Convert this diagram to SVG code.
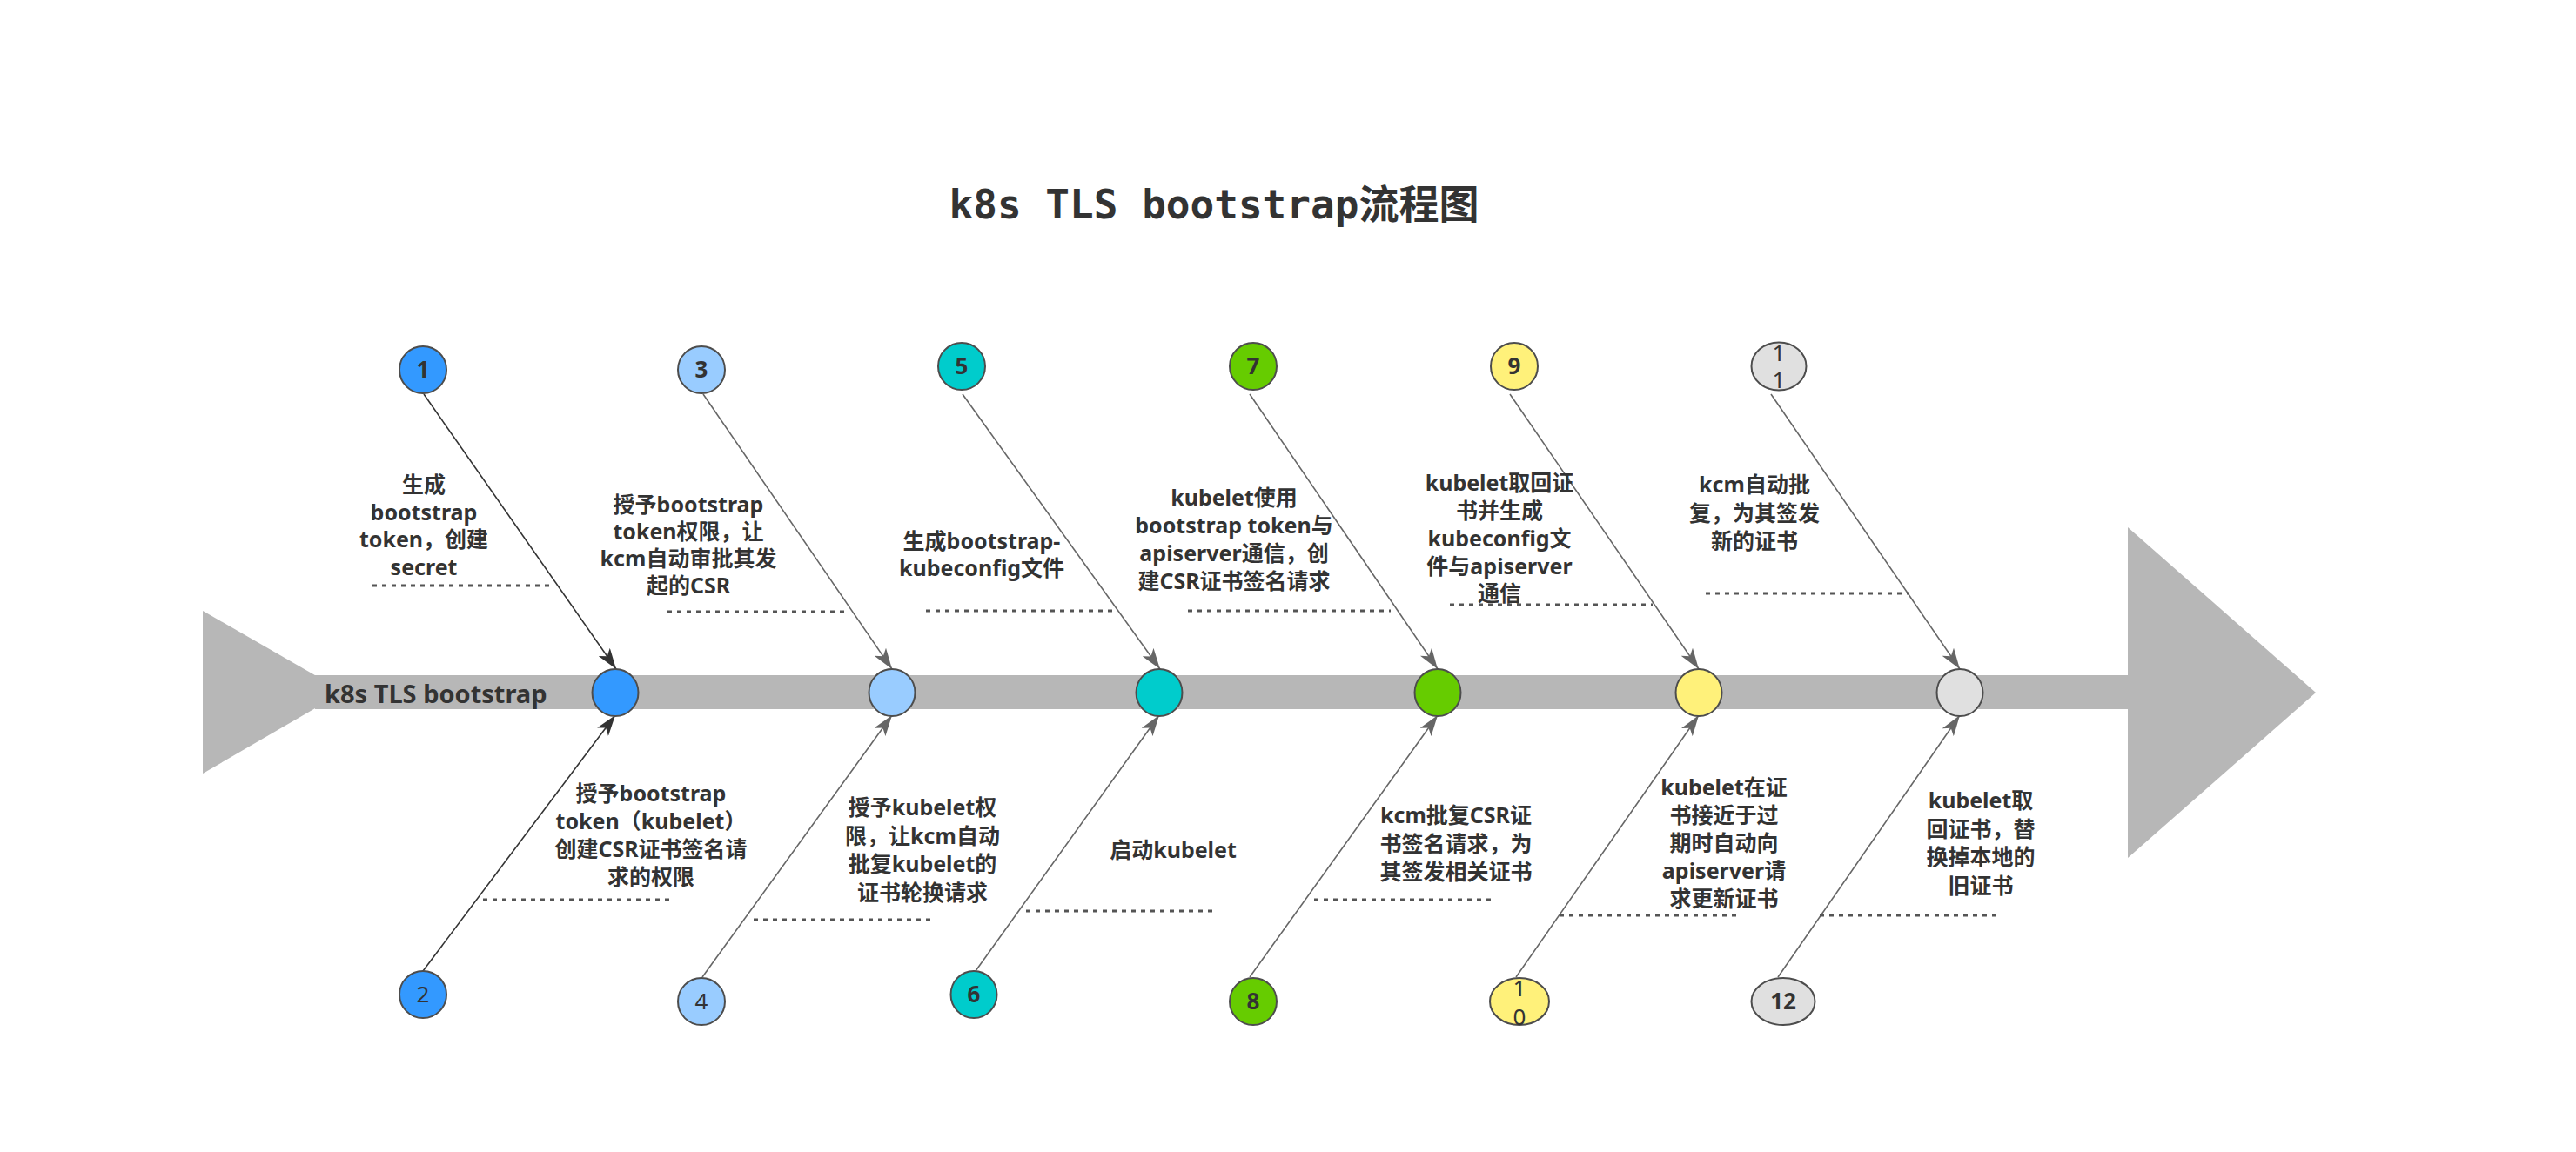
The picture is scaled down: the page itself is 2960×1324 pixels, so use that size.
<svg xmlns="http://www.w3.org/2000/svg" width="2960" height="1324" viewBox="0 0 2960 1324">
<defs>
<style>
.bg{fill:#ffffff}
.spine{fill:#b7b7b7}
.node{stroke:#4d4d4d;stroke-width:2}
.num{font-family:"Noto Sans","Noto Sans CJK SC",sans-serif;font-size:26px;fill:#333;text-anchor:middle}
.b{font-weight:bold}
.lbl{font-family:"Noto Sans","Noto Sans CJK SC",sans-serif;font-size:25px;font-weight:bold;fill:#333;text-anchor:middle}
.dot{stroke:#555;stroke-width:3;stroke-dasharray:5 6;fill:none}
.c-dark{stroke:#333;stroke-width:1.6;fill:none;marker-end:url(#ah-dark)}
.c-gray{stroke:#666;stroke-width:1.6;fill:none;marker-end:url(#ah-gray)}
.f1{fill:#3399ff}.f3{fill:#99ccff}.f5{fill:#00cccc}.f7{fill:#66cc00}.f9{fill:#fff17a}.f11{fill:#e0e0e0}
</style>
<marker id="ah-dark" viewBox="0 0 24 16" markerWidth="24" markerHeight="16" refX="24" refY="8" orient="auto" markerUnits="userSpaceOnUse"><path d="M0,0 L24,8 L0,16 L6,8 Z" fill="#333"/></marker>
<marker id="ah-gray" viewBox="0 0 24 16" markerWidth="24" markerHeight="16" refX="24" refY="8" orient="auto" markerUnits="userSpaceOnUse"><path d="M0,0 L24,8 L0,16 L6,8 Z" fill="#666"/></marker>
</defs>
<rect class="bg" x="0" y="0" width="2960" height="1324"/>

<g id="title">
<text x="1395" y="251" font-family="'DejaVu Sans Mono','Noto Sans CJK SC',monospace" font-size="46" font-weight="bold" fill="#333" text-anchor="middle">k8s TLS bootstrap流程图</text>
</g>

<g id="spine">
<polygon class="spine" points="233,702 395,795 233,889"/>
<rect class="spine" x="362" y="776" width="2084" height="39"/>
<polygon class="spine" points="2445,606 2661,796 2445,986"/>
<text x="373" y="808" font-family="'Noto Sans','Noto Sans CJK SC',sans-serif" font-size="29" font-weight="bold" fill="#333">k8s TLS bootstrap</text>
</g>

<g id="connectors">
<line class="c-dark" x1="487" y1="453" x2="708" y2="769"/>
<line class="c-gray" x1="808" y1="453" x2="1025" y2="769"/>
<line class="c-gray" x1="1106" y1="453" x2="1333" y2="769"/>
<line class="c-gray" x1="1436" y1="453" x2="1652" y2="769"/>
<line class="c-gray" x1="1735" y1="453" x2="1952" y2="769"/>
<line class="c-gray" x1="2035" y1="453" x2="2252" y2="769"/>
<line class="c-dark" x1="486" y1="1116" x2="707" y2="822"/>
<line class="c-gray" x1="807" y1="1123" x2="1025" y2="822"/>
<line class="c-gray" x1="1121" y1="1116" x2="1332" y2="822"/>
<line class="c-gray" x1="1436" y1="1123" x2="1652" y2="822"/>
<line class="c-gray" x1="1742" y1="1123" x2="1952" y2="822"/>
<line class="c-gray" x1="2043" y1="1123" x2="2252" y2="822"/>
</g>

<g id="spine-nodes">
<ellipse id="s1" class="node f1" cx="707" cy="796" rx="26.5" ry="27"/>
<ellipse id="s3" class="node f3" cx="1025" cy="796" rx="26.5" ry="27"/>
<ellipse id="s5" class="node f5" cx="1332" cy="796" rx="26.5" ry="27"/>
<ellipse id="s7" class="node f7" cx="1652" cy="796" rx="26.5" ry="27"/>
<ellipse id="s9" class="node f9" cx="1952" cy="796" rx="26.5" ry="27"/>
<ellipse id="s11" class="node f11" cx="2252" cy="796" rx="26.5" ry="27"/>
</g>

<g id="n1"><ellipse class="node f1" cx="486" cy="425" rx="27" ry="27"/><text class="num b" x="486" y="434">1</text></g>
<g id="n3"><ellipse class="node f3" cx="806" cy="425" rx="27" ry="27"/><text class="num b" x="806" y="434">3</text></g>
<g id="n5"><ellipse class="node f5" cx="1105" cy="421" rx="27" ry="27"/><text class="num b" x="1105" y="430">5</text></g>
<g id="n7"><ellipse class="node f7" cx="1440" cy="421" rx="27" ry="27"/><text class="num b" x="1440" y="430">7</text></g>
<g id="n9"><ellipse class="node f9" cx="1740" cy="421" rx="27" ry="27"/><text class="num b" x="1740" y="430">9</text></g>
<g id="n11"><ellipse class="node f11" cx="2044" cy="421" rx="31.5" ry="27.5"/><text class="num" x="2044" y="415">1</text><text class="num" x="2044" y="446">1</text></g>
<g id="n2"><ellipse class="node f1" cx="486" cy="1143" rx="27" ry="27"/><text class="num" x="486" y="1152">2</text></g>
<g id="n4"><ellipse class="node f3" cx="806" cy="1151" rx="27" ry="27"/><text class="num" x="806" y="1160">4</text></g>
<g id="n6"><ellipse class="node f5" cx="1119" cy="1143" rx="26.5" ry="27"/><text class="num b" x="1119" y="1152">6</text></g>
<g id="n8"><ellipse class="node f7" cx="1440" cy="1151" rx="27" ry="27"/><text class="num b" x="1440" y="1160">8</text></g>
<g id="n10"><ellipse class="node f9" cx="1746" cy="1151" rx="34" ry="27"/><text class="num" x="1746" y="1145">1</text><text class="num" x="1746" y="1178">0</text></g>
<g id="n12"><ellipse class="node f11" cx="2049" cy="1151" rx="36.5" ry="27"/><text class="num b" x="2049" y="1160">12</text></g>

<g id="label1"><text class="lbl" x="487" y="566"><tspan x="487">生成</tspan><tspan x="487" dy="31.5">bootstrap</tspan><tspan x="487" dy="31.5">token，创建</tspan><tspan x="487" dy="31.5">secret</tspan></text><line class="dot" x1="428" y1="673" x2="636" y2="673"/></g>
<g id="label3"><text class="lbl" x="791" y="589"><tspan x="791">授予bootstrap</tspan><tspan x="791" dy="31">token权限，让</tspan><tspan x="791" dy="31">kcm自动审批其发</tspan><tspan x="791" dy="31">起的CSR</tspan></text><line class="dot" x1="767" y1="703" x2="976" y2="703"/></g>
<g id="label5"><text class="lbl" x="1128" y="631"><tspan x="1128">生成bootstrap-</tspan><tspan x="1128" dy="31">kubeconfig文件</tspan></text><line class="dot" x1="1064" y1="702" x2="1284" y2="702"/></g>
<g id="label7"><text class="lbl" x="1418" y="581"><tspan x="1418">kubelet使用</tspan><tspan x="1418" dy="32">bootstrap token与</tspan><tspan x="1418" dy="32">apiserver通信，创</tspan><tspan x="1418" dy="32">建CSR证书签名请求</tspan></text><line class="dot" x1="1365" y1="702" x2="1598" y2="702"/></g>
<g id="label9"><text class="lbl" x="1723" y="564"><tspan x="1723">kubelet取回证</tspan><tspan x="1723" dy="32">书并生成</tspan><tspan x="1723" dy="32">kubeconfig文</tspan><tspan x="1723" dy="32">件与apiserver</tspan><tspan x="1723" dy="31">通信</tspan></text><line class="dot" x1="1666" y1="695" x2="1899" y2="695"/></g>
<g id="label11"><text class="lbl" x="2016" y="566"><tspan x="2016">kcm自动批</tspan><tspan x="2016" dy="32.5">复，为其签发</tspan><tspan x="2016" dy="32.5">新的证书</tspan></text><line class="dot" x1="1960" y1="682" x2="2193" y2="682"/></g>
<g id="label2"><text class="lbl" x="748" y="921"><tspan x="748">授予bootstrap</tspan><tspan x="748" dy="32">token（kubelet）</tspan><tspan x="748" dy="32">创建CSR证书签名请</tspan><tspan x="748" dy="32">求的权限</tspan></text><line class="dot" x1="555" y1="1034" x2="771" y2="1034"/></g>
<g id="label4"><text class="lbl" x="1060" y="937"><tspan x="1060">授予kubelet权</tspan><tspan x="1060" dy="32.5">限，让kcm自动</tspan><tspan x="1060" dy="32.5">批复kubelet的</tspan><tspan x="1060" dy="32.5">证书轮换请求</tspan></text><line class="dot" x1="866" y1="1057" x2="1070" y2="1057"/></g>
<g id="label6"><text class="lbl" x="1348" y="986">启动kubelet</text><line class="dot" x1="1179" y1="1047" x2="1399" y2="1047"/></g>
<g id="label8"><text class="lbl" x="1673" y="946"><tspan x="1673">kcm批复CSR证</tspan><tspan x="1673" dy="32.5">书签名请求，为</tspan><tspan x="1673" dy="32.5">其签发相关证书</tspan></text><line class="dot" x1="1510" y1="1034" x2="1716" y2="1034"/></g>
<g id="label10"><text class="lbl" x="1981" y="914"><tspan x="1981">kubelet在证</tspan><tspan x="1981" dy="32">书接近于过</tspan><tspan x="1981" dy="32">期时自动向</tspan><tspan x="1981" dy="32">apiserver请</tspan><tspan x="1981" dy="32">求更新证书</tspan></text><line class="dot" x1="1792" y1="1052" x2="1996" y2="1052"/></g>
<g id="label12"><text class="lbl" x="2276" y="929"><tspan x="2276">kubelet取</tspan><tspan x="2276" dy="32.5">回证书，替</tspan><tspan x="2276" dy="32.5">换掉本地的</tspan><tspan x="2276" dy="32.5">旧证书</tspan></text><line class="dot" x1="2091" y1="1052" x2="2298" y2="1052"/></g>
</svg>
